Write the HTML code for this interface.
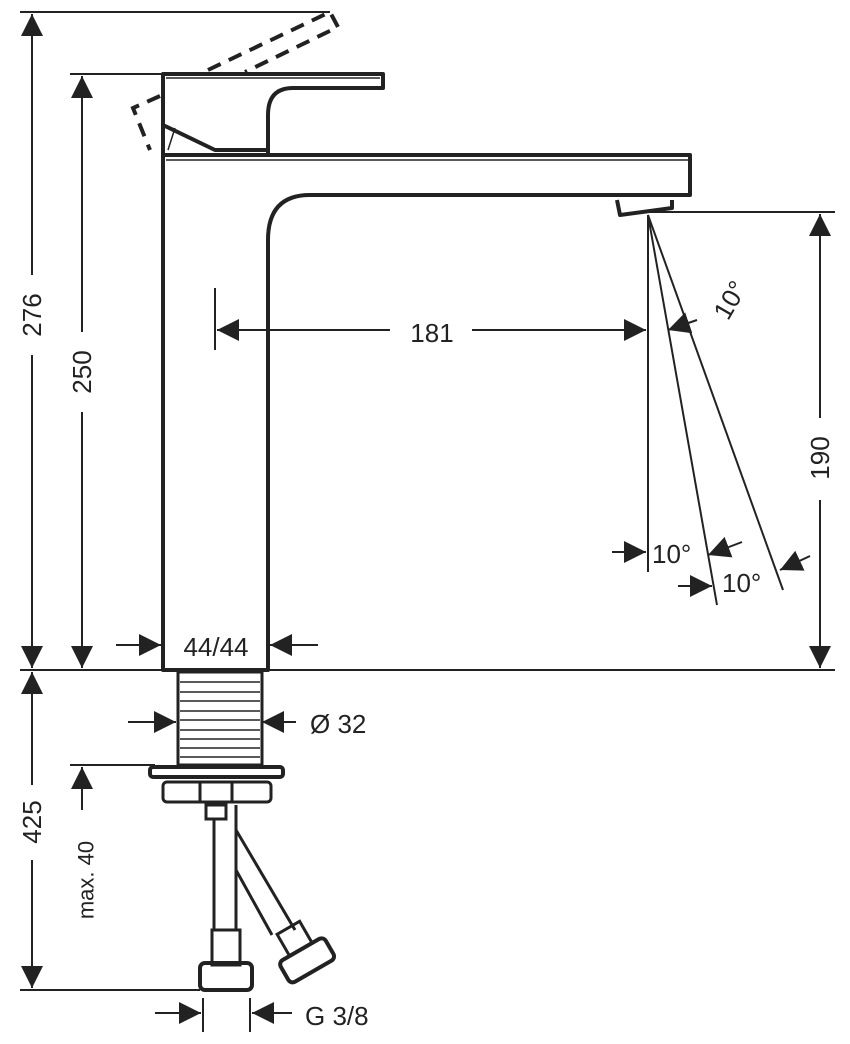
<!DOCTYPE html>
<html><head><meta charset="utf-8"><style>
html,body{margin:0;padding:0;background:#fff}
svg{display:block}
text{font-family:"Liberation Sans",sans-serif;font-size:26px;fill:#222}
</style></head><body>
<svg width="850" height="1044" viewBox="0 0 850 1044" xmlns="http://www.w3.org/2000/svg">
<defs>
<marker id="a" viewBox="0 0 10 10" refX="10" refY="5" markerWidth="22" markerHeight="22" markerUnits="userSpaceOnUse" orient="auto"><path d="M0,0L10,5L0,10z" fill="#222"/></marker>
</defs>
<g stroke="#222" fill="none" stroke-width="2">
<!-- extension lines -->
<line x1="20" y1="12" x2="330" y2="12"/>
<line x1="70" y1="74" x2="165" y2="74"/>
<line x1="20" y1="670" x2="835" y2="670"/>
<line x1="70" y1="765" x2="155" y2="765"/>
<line x1="20" y1="990" x2="200" y2="990"/>
<line x1="650" y1="212" x2="835" y2="212"/>
<line x1="215" y1="288" x2="215" y2="350"/>
<!-- 276 -->
<line x1="32" y1="275" x2="32" y2="14" marker-end="url(#a)"/>
<line x1="32" y1="355" x2="32" y2="668" marker-end="url(#a)"/>
<!-- 250 -->
<line x1="82" y1="332" x2="82" y2="76" marker-end="url(#a)"/>
<line x1="82" y1="412" x2="82" y2="668" marker-end="url(#a)"/>
<!-- 425 -->
<line x1="32" y1="785" x2="32" y2="672" marker-end="url(#a)"/>
<line x1="32" y1="860" x2="32" y2="988" marker-end="url(#a)"/>
<!-- max 40 -->
<line x1="82" y1="810" x2="82" y2="767" marker-end="url(#a)"/>
<!-- 190 -->
<line x1="820" y1="418" x2="820" y2="214" marker-end="url(#a)"/>
<line x1="820" y1="500" x2="820" y2="668" marker-end="url(#a)"/>
<!-- 181 -->
<line x1="390" y1="330" x2="217" y2="330" marker-end="url(#a)"/>
<line x1="472" y1="330" x2="646" y2="330" marker-end="url(#a)"/>
<!-- angle lines -->
<line x1="648" y1="215" x2="648" y2="572"/>
<line x1="648" y1="215" x2="717" y2="605"/>
<line x1="648" y1="215" x2="783" y2="590"/>
<line x1="697" y1="320" x2="668" y2="330" marker-end="url(#a)"/>
<line x1="612" y1="552" x2="646" y2="552" marker-end="url(#a)"/>
<line x1="742" y1="542" x2="708" y2="555" marker-end="url(#a)"/>
<line x1="678" y1="586" x2="712" y2="586" marker-end="url(#a)"/>
<line x1="810" y1="556" x2="780" y2="570" marker-end="url(#a)"/>
<!-- 44/44 -->
<line x1="116" y1="645" x2="161" y2="645" marker-end="url(#a)"/>
<line x1="318" y1="645" x2="270" y2="645" marker-end="url(#a)"/>
<!-- Ø32 -->
<line x1="128" y1="722" x2="176" y2="722" marker-end="url(#a)"/>
<line x1="296" y1="722" x2="262" y2="722" marker-end="url(#a)"/>
<!-- G3/8 -->
<line x1="203" y1="998" x2="203" y2="1032"/>
<line x1="250" y1="998" x2="250" y2="1032"/>
<line x1="155" y1="1013" x2="201" y2="1013" marker-end="url(#a)"/>
<line x1="292" y1="1013" x2="252" y2="1013" marker-end="url(#a)"/>
</g>
<!-- faucet -->
<g stroke="#222" fill="none" stroke-width="4" stroke-linejoin="round">
<path d="M163,670 V155 H690 V195 H310 Q268,195 268,240 V670 Z"/>
<path d="M163,155 V74 H383 V88 H293 Q268,88 268,115 V155"/>
<path d="M163,125 L215,150 H268"/>
<path d="M617,200 L620,215 L672,208 L672,200"/>
</g>
<g stroke="#222" fill="none" stroke-width="1.5">
<line x1="166" y1="160" x2="688" y2="160"/>
<line x1="166" y1="78" x2="380" y2="78"/>
<line x1="168" y1="150" x2="175" y2="128"/>
</g>
<!-- dashed handle -->
<g stroke="#222" fill="none" stroke-width="4" stroke-dasharray="14,9">
<path d="M208,70 L330,12 L338,27 L245,72"/>
<path d="M160,96 L133,108 L150,150"/>
</g>
<!-- drain -->
<g stroke="#222" fill="none" stroke-width="3">
<rect x="178" y="672" width="84" height="93"/>
<rect x="150" y="767" width="133" height="10" rx="3" stroke-width="4"/>
<rect x="163" y="782" width="108" height="20" rx="4"/>
<line x1="200" y1="782" x2="200" y2="802"/><line x1="232" y1="782" x2="232" y2="802"/>
<rect x="206" y="805" width="20" height="14"/>
<line x1="214" y1="819" x2="214" y2="930"/><line x1="236" y1="805" x2="236" y2="930"/>
<path d="M236,830 L295,930 M236,870 L272,935"/>
<rect x="212" y="930" width="28" height="35"/>
<rect x="200" y="963" width="52" height="27" rx="5" stroke-width="4"/>
<g transform="rotate(-30 300 950)"><rect x="288" y="925" width="26" height="25"/><rect x="275" y="950" width="52" height="25" rx="5" stroke-width="4"/></g>
</g>
<g stroke="#222" stroke-width="1.5">
<line x1="180" y1="682" x2="260" y2="682"/><line x1="180" y1="692" x2="260" y2="692"/>
<line x1="180" y1="701" x2="260" y2="701"/><line x1="180" y1="711" x2="260" y2="711"/>
<line x1="180" y1="720" x2="260" y2="720"/><line x1="180" y1="730" x2="260" y2="730"/>
<line x1="180" y1="739" x2="260" y2="739"/><line x1="180" y1="748" x2="260" y2="748"/>
<line x1="180" y1="757" x2="260" y2="757"/>
</g>
<!-- labels -->
<text x="32" y="315" text-anchor="middle" dominant-baseline="central" transform="rotate(-90 32 315)">276</text>
<text x="82" y="372" text-anchor="middle" dominant-baseline="central" transform="rotate(-90 82 372)">250</text>
<text x="32" y="822" text-anchor="middle" dominant-baseline="central" transform="rotate(-90 32 822)">425</text>
<text x="86" y="880" text-anchor="middle" dominant-baseline="central" transform="rotate(-90 86 880)" style="font-size:22px">max. 40</text>
<text x="820" y="458" text-anchor="middle" dominant-baseline="central" transform="rotate(-90 820 458)">190</text>
<text x="432" y="342" text-anchor="middle">181</text>
<text x="216" y="656" text-anchor="middle">44/44</text>
<text x="310" y="733">Ø 32</text>
<text x="305" y="1025">G 3/8</text>
<text x="730" y="300" text-anchor="middle" dominant-baseline="central" transform="rotate(-60 730 300)">10°</text>
<text x="652" y="563">10°</text>
<text x="722" y="592">10°</text>
</svg>
</body></html>
